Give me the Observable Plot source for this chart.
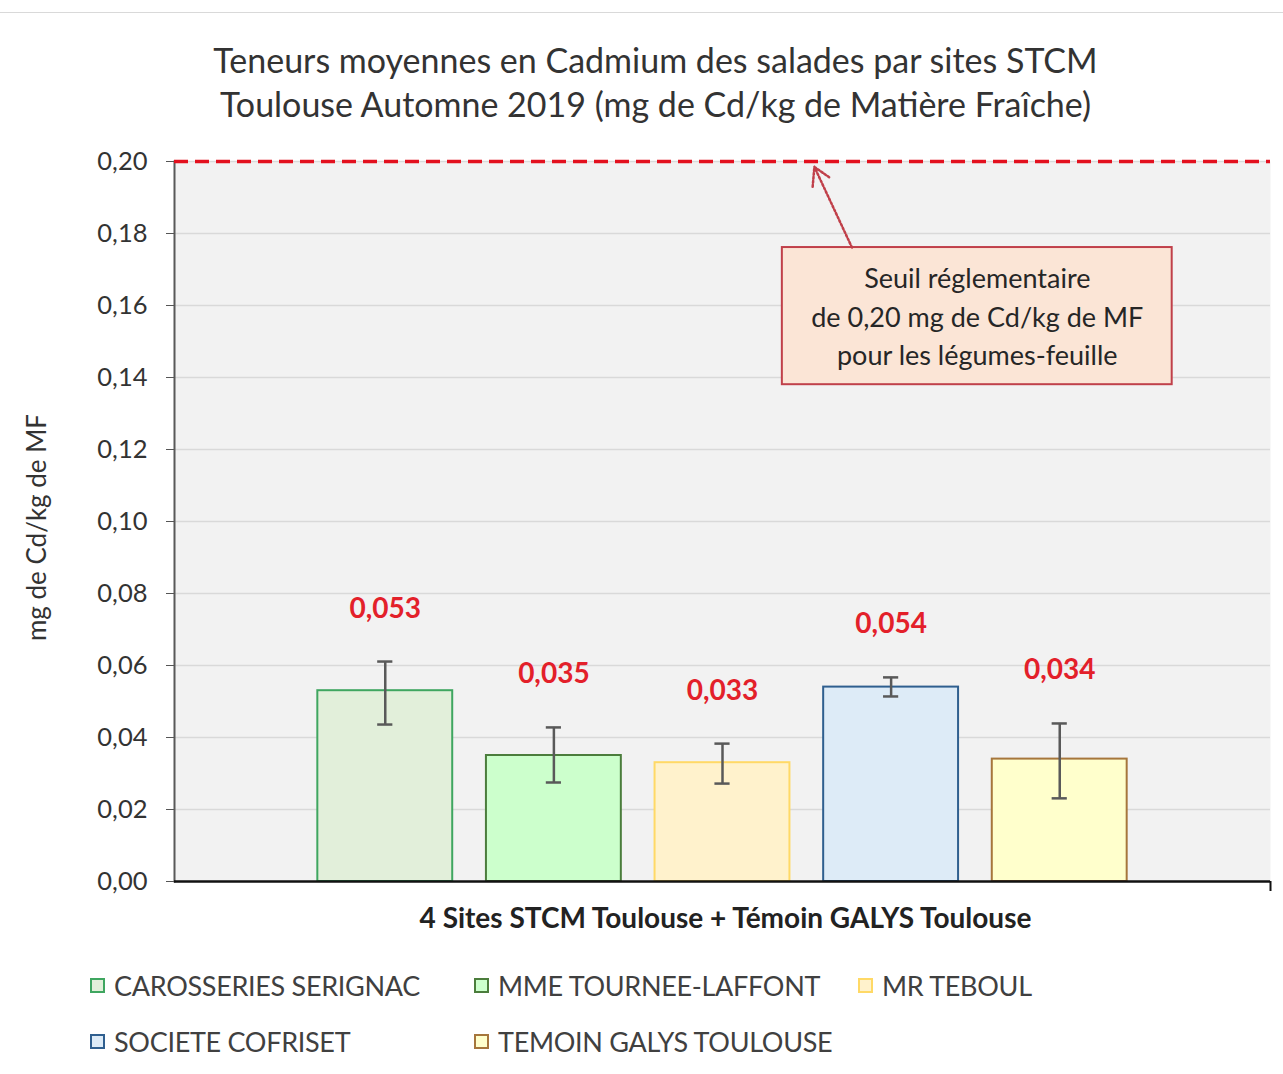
<!DOCTYPE html>
<html>
<head>
<meta charset="utf-8">
<script src="https://cdn.jsdelivr.net/npm/d3@7"></script>
<script src="https://cdn.jsdelivr.net/npm/@observablehq/plot@0.6"></script>
<style>
  html, body { margin: 0; padding: 0; background: #fff; }
  #wrap { position: relative; width: 1283px; height: 1074px; font-family: Lato, "Liberation Sans", sans-serif; }
  #topline { position: absolute; left: 0; top: 12px; width: 1283px; height: 1px; background: #d9d9d9; }
  #legend { position: relative; width: 1283px; height: 124px; }
  .item { position: absolute; display: flex; align-items: center; font-size: 27px; color: #404040; letter-spacing: -0.3px; }
  .sw { width: 11px; height: 11px; border: 2px solid; margin-right: 9px; }
  svg { display: block; }
</style>
</head>
<body>
<div id="wrap">
  <div id="topline"></div>
  <div id="chart"></div>
  <div id="legend"></div>
</div>
<script>
// ---- data ----
const sites = ["CAROSSERIES SERIGNAC", "MME TOURNEE-LAFFONT", "MR TEBOUL", "SOCIETE COFRISET", "TEMOIN GALYS TOULOUSE"];
const means = [0.053, 0.035, 0.033, 0.054, 0.034];
const errLow = [0.0436, 0.0275, 0.0272, 0.0514, 0.0231];
const errHigh = [0.0611, 0.0428, 0.0383, 0.0567, 0.0439];
const fills = ["#e2efda", "#ccffcc", "#fff2cc", "#ddebf7", "#ffffcc"];
const strokes = ["#3fa660", "#4b7d3c", "#ffd966", "#2f5f8f", "#a6763c"];
const yTicks = [0, 0.02, 0.04, 0.06, 0.08, 0.10, 0.12, 0.14, 0.16, 0.18, 0.20];
const threshold = 0.20;
const titleLines = ["Teneurs moyennes en Cadmium des salades par sites STCM", "Toulouse Automne 2019 (mg de Cd/kg de Matière Fraîche)"];
const yLabel = "mg de Cd/kg de MF";
const xLabel = "4 Sites STCM Toulouse + Témoin GALYS Toulouse";
const noteLines = ["Seuil réglementaire", "de 0,20 mg de Cd/kg de MF", "pour les légumes-feuille"];

const data = sites.map((s, i) => ({site: s, i, mean: means[i], lo: errLow[i], hi: errHigh[i], fill: fills[i], stroke: strokes[i]}));
const fmt = v => d3.format(".2f")(v).replace(".", ",");
const fmt3 = v => d3.format(".3f")(v).replace(".", ",");

// annotation box in data coordinates (x: site index units)
const note = {x1: 2.355, x2: 4.667, y1: 0.138, y2: 0.1761, cx: 3.511, lineY: [0.1672, 0.1564, 0.1458]};
const arrow = {x1: 2.768, y1: 0.1761, x2: 2.545, y2: 0.1985};
const xDomain = [-1.25, 5.25];

const font = "Lato, 'Liberation Sans', sans-serif";

const plot = Plot.plot({
  width: 1283,
  height: 950,
  marginTop: 161,
  marginBottom: 69,
  marginLeft: 174,
  marginRight: 13,
  style: {fontFamily: font, background: "transparent", overflow: "visible"},
  x: {domain: xDomain, axis: null},
  y: {domain: [0, 0.2], ticks: yTicks, tickFormat: fmt, label: null},
  marks: [
    Plot.frame({fill: "#f2f2f2", stroke: null}),
    Plot.gridY(yTicks.slice(1), {stroke: "#d9d9d9", strokeOpacity: 1, strokeWidth: 1.5}),
    Plot.axisY({ticks: yTicks, tickFormat: fmt, tickSize: 8, tickPadding: 19, fontSize: 25.5, color: "#333", stroke: "#555", label: null}),
    Plot.frame({anchor: "left", stroke: "#595959", strokeWidth: 2}),
    Plot.rectY(data, {x1: d => d.i - 0.4, x2: d => d.i + 0.4, y1: 0, y2: "mean", fill: "fill", stroke: "stroke", strokeWidth: 2}),
    Plot.ruleX(data, {x: "i", y1: "lo", y2: "hi", stroke: "#595959", strokeWidth: 2.5}),
    Plot.ruleY(data, {x1: d => d.i - 0.045, x2: d => d.i + 0.045, y: "lo", stroke: "#595959", strokeWidth: 2.5}),
    Plot.ruleY(data, {x1: d => d.i - 0.045, x2: d => d.i + 0.045, y: "hi", stroke: "#595959", strokeWidth: 2.5}),
    Plot.text(data, {x: "i", y: "hi", text: d => fmt3(d.mean), dy: -53, fill: "#e3202a", fontSize: 28, fontWeight: "bold"}),
    Plot.ruleY([0], {stroke: "#111", strokeWidth: 2.5}),
    Plot.ruleX([xDomain[1]], {y1: 0, y2: 0, insetBottom: -10, stroke: "#111", strokeWidth: 2}),
    Plot.ruleY([threshold], {stroke: "#e3101e", strokeWidth: 3.5, strokeDasharray: "14,7"}),
    Plot.rect([note], {x1: "x1", x2: "x2", y1: "y1", y2: "y2", fill: "#fbe5d6", stroke: "#c0404a", strokeWidth: 2}),
    Plot.text(noteLines, {x: note.cx, y: (d, i) => note.lineY[i], text: d => d, fontSize: 27, fill: "#262626"}),
    Plot.arrow([arrow], {x1: "x1", y1: "y1", x2: "x2", y2: "y2", stroke: "#c0404a", strokeWidth: 2.5, strokeDasharray: "2,2", headLength: 12, bend: 0}),
    Plot.text(titleLines, {frameAnchor: "top", dy: -113, text: d => d, fontSize: 34, fill: "#333", filter: (d, i) => i === 0, dx: -67}),
    Plot.text(titleLines, {frameAnchor: "top", dy: -69, text: d => d, fontSize: 34, fill: "#333", filter: (d, i) => i === 1, dx: -67}),
    Plot.text([yLabel], {frameAnchor: "left", textAnchor: "middle", rotate: -90, dx: -137, dy: 6, fontSize: 26, fill: "#333"}),
    Plot.text([xLabel], {frameAnchor: "bottom", dy: 46, dx: 3, fontSize: 28, fontWeight: "bold", fill: "#222", letterSpacing: -0.3})
  ]
});
document.getElementById("chart").appendChild(plot);

// legend
const legendPos = [[90, 36], [474, 36], [858, 36], [90, 92], [474, 92]];
const legend = document.getElementById("legend");
data.forEach((d, i) => {
  const el = document.createElement("div");
  el.className = "item";
  el.style.left = legendPos[i][0] + "px";
  el.style.top = (legendPos[i][1] - 17) + "px";
  const sw = document.createElement("span");
  sw.className = "sw";
  sw.style.background = d.fill;
  sw.style.borderColor = d.stroke;
  const tx = document.createElement("span");
  tx.textContent = d.site;
  el.appendChild(sw);
  el.appendChild(tx);
  legend.appendChild(el);
});
</script>
</body>
</html>
